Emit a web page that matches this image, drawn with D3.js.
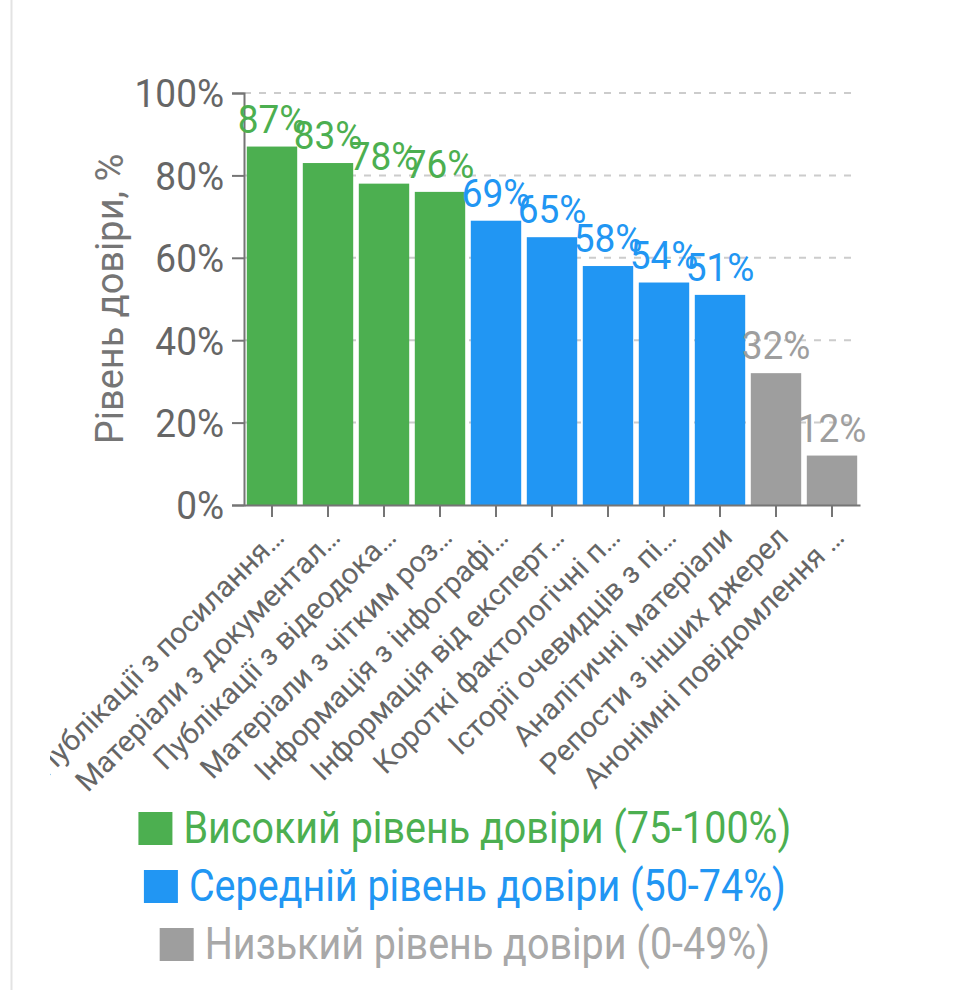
<!DOCTYPE html>
<html>
<head>
<meta charset="utf-8">
<script src="https://cdn.jsdelivr.net/npm/d3@7"></script>
<style>
  body { margin: 0; background: #fff; font-family: Roboto, sans-serif; }
  svg { display: block; }
</style>
</head>
<body>
<div id="chart"></div>
<script>
const categories = [
    'Публікації з посилання…',
    'Матеріали з документал…',
    'Публікації з відеодока…',
    'Матеріали з чітким роз…',
    'Інформація з інфографі…',
    'Інформація від експерт…',
    'Короткі фактологічні п…',
    'Історії очевидців з пі…',
    'Аналітичні матеріали',
    'Репости з інших джерел',
    'Анонімні повідомлення …'
];
const values = [87, 83, 78, 76, 69, 65, 58, 54, 51, 32, 12];
const levels = ['high', 'high', 'high', 'high', 'mid', 'mid', 'mid', 'mid', 'mid', 'low', 'low'];
const yTicks = [0, 20, 40, 60, 80, 100];
const legendLevels = ['high', 'mid', 'low'];
const legendLabels = [
    'Високий рівень довіри (75-100%)',
    'Середній рівень довіри (50-74%)',
    'Низький рівень довіри (0-49%)'
];
const yTitle = 'Рівень довіри, %';

const colors = { high: '#4caf50', mid: '#2196f3', low: '#9e9e9e' };
const legendTextColors = { high: '#4caf50', mid: '#2196f3', low: '#a8a8a8' };

const width = 959;
const height = 990;
const plotLeft = 244, plotRight = 860, plotTop = 93, plotBottom = 505;
const stretch = 1.07; // text in the picture is a little taller than wide

const svg = d3.select('#chart')
    .append('svg')
    .attr('width', width)
    .attr('height', height);

// thin container border on the left
svg.append('line')
    .attr('x1', 11.5).attr('x2', 11.5)
    .attr('y1', 0).attr('y2', height)
    .attr('stroke', '#e3e3e3')
    .attr('stroke-width', 2);

const xScale = d3.scaleBand()
    .domain(categories)
    .range([plotLeft, plotRight])
    .paddingInner(0.1)
    .paddingOuter(0.05);

const yScale = d3.scaleLinear()
    .domain([0, 100])
    .range([plotBottom, plotTop]);

// grid
svg.append('g')
    .selectAll('line')
    .data(yTicks.filter(d => d > 0))
    .join('line')
    .attr('x1', plotLeft)
    .attr('x2', plotRight - 3)
    .attr('y1', d => yScale(d))
    .attr('y2', d => yScale(d))
    .attr('stroke', '#cccccc')
    .attr('stroke-width', 2)
    .attr('stroke-dasharray', '7,8');

// bars
svg.append('g')
    .selectAll('rect')
    .data(values)
    .join('rect')
    .attr('x', (d, i) => xScale(categories[i]))
    .attr('y', d => yScale(d))
    .attr('width', xScale.bandwidth())
    .attr('height', d => plotBottom - yScale(d))
    .attr('fill', (d, i) => colors[levels[i]]);

// y axis
const yAxis = svg.append('g')
    .attr('transform', `translate(${plotLeft}, 0)`)
    .call(d3.axisLeft(yScale).tickValues(yTicks).tickFormat(d => d + '%').tickSize(12).tickPadding(8));
yAxis.select('.domain').attr('stroke', '#757575').attr('stroke-width', 2);
yAxis.selectAll('.tick line').attr('stroke', '#757575').attr('stroke-width', 2);
yAxis.selectAll('.tick text')
    .attr('fill', '#666')
    .attr('transform', `scale(1, ${stretch})`)
    .style('font-family', 'Roboto')
    .style('font-size', '37px')
    .attr('dy', '0.35em');

// x axis
const xAxis = svg.append('g')
    .attr('transform', `translate(0, ${plotBottom})`)
    .call(d3.axisBottom(xScale).tickSize(12).tickSizeOuter(0).tickFormat(''));
xAxis.select('.domain').attr('stroke', '#757575').attr('stroke-width', 2);
xAxis.selectAll('.tick line').attr('stroke', '#757575').attr('stroke-width', 2);

// x labels, clipped at the left edge of the container
svg.append('clipPath')
    .attr('id', 'clip')
    .append('rect')
    .attr('x', 50).attr('y', 0)
    .attr('width', width).attr('height', height);

svg.append('g')
    .attr('clip-path', 'url(#clip)')
    .selectAll('text')
    .data(categories)
    .join('text')
    .attr('transform', d => `translate(${xScale(d) + xScale.bandwidth() / 2 + 14}, ${plotBottom + 34}) rotate(-45)`)
    .attr('text-anchor', 'end')
    .attr('fill', '#666')
    .style('font-size', '29.5px')
    .text(d => d);

// value labels
svg.append('g')
    .selectAll('text')
    .data(values)
    .join('text')
    .attr('transform', (d, i) => `translate(${xScale(categories[i]) + xScale.bandwidth() / 2}, ${yScale(d) - 14}) scale(1, ${stretch})`)
    .attr('text-anchor', 'middle')
    .attr('fill', (d, i) => colors[levels[i]])
    .style('font-size', '37px')
    .text(d => d + '%');

// y title
svg.append('text')
    .attr('transform', `translate(123, ${(plotTop + plotBottom) / 2}) rotate(-90)`)
    .attr('text-anchor', 'middle')
    .attr('fill', '#757575')
    .style('font-size', '38px')
    .text(yTitle);

// legend
const legendCx = 465;
const box = 34;
const legend = svg.append('g');
legendLevels.forEach((lv, i) => {
    const g = legend.append('g').attr('transform', `translate(0, ${843 + i * 58})`);
    const t = g.append('text')
        .attr('fill', legendTextColors[lv])
        .style('font-size', '39.5px')
        .text(legendLabels[i]);
    const tw = t.node().getComputedTextLength();
    const x0 = legendCx - (box + 11 + tw) / 2;
    g.append('rect')
        .attr('x', x0)
        .attr('y', -31)
        .attr('width', box)
        .attr('height', 33)
        .attr('fill', colors[lv]);
    t.attr('transform', `translate(${x0 + box + 11}, 0) scale(1, 1.13)`);
});
</script>
</body>
</html>
